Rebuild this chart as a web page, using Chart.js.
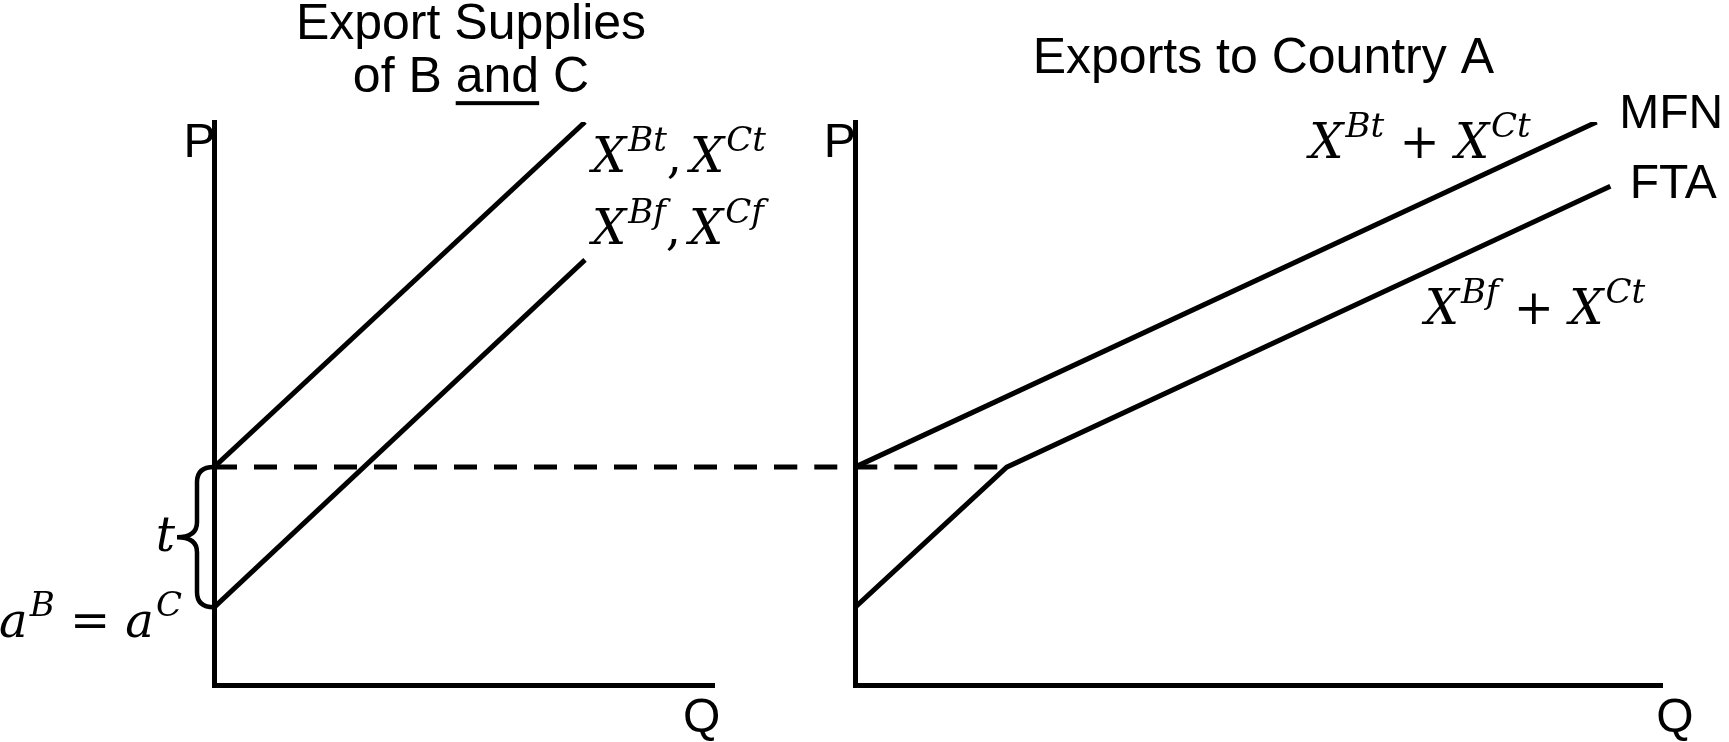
<!DOCTYPE html>
<html>
<head>
<meta charset="utf-8">
<title>Export supplies of B and C / Exports to Country A</title>
<script src="https://cdn.jsdelivr.net/npm/chart.js@4.4.0/dist/chart.umd.min.js"></script>
<style>
  html, body { margin: 0; padding: 0; background: #fff; }
  #wrap { position: relative; width: 1729px; height: 742px; overflow: hidden; }
  #left { position: absolute; left: 0; top: 0; }
  #right { position: absolute; left: 785px; top: 0; }
</style>
</head>
<body>
<div id="wrap">
  <canvas id="left" width="785" height="742"></canvas>
  <canvas id="right" width="944" height="742"></canvas>
</div>
<script>
// left panel: export supply of B (C is the same), with tariff t and tariff free
const supplyQ = [0, 7.42];
const supplyTariffP = [3.87, 10.0];   // X^Bt, X^Ct
const supplyFreeP = [1.38, 7.55];     // X^Bf, X^Cf
const tariffP = 3.87;                 // a + t (dashed line)
const interceptP = 1.38;              // a^B = a^C
const dashLeftQ = [0, 12];            // runs on past the axis into the right panel

// right panel: exports to country A
const mfnQ = [0, 9.19];
const mfnP = [3.87, 10.0];            // X^Bt + X^Ct
const ftaQ = [0, 1.88, 9.36];
const ftaP = [1.38, 3.87, 8.86];      // X^Bf + X^Ct
const dashRightQ = [-1, 1.88];

const SANS = "'Liberation Sans', Arial, sans-serif";
const SERIF = "'DejaVu Serif', serif";

const leftLabels = [
    {text: 'Export Supplies', q: 5.14, p: 11.47, align: 'center', size: 50},
    {text: 'of B and C', q: 5.14, p: 10.53, align: 'center', size: 50, underline: 'and'},
    {text: 'P', q: 0.03, p: 9.38, align: 'right', size: 48},
    {text: 'Q', q: 9.38, p: -0.835, align: 'left', size: 48},
    {math: 'X^{Bt},\u2006X^{Ct}', q: 7.56, p: 9.11, align: 'left'},
    {math: 'X^{Bf},\u2006X^{Cf}', q: 7.56, p: 7.83, align: 'left'},
    {math: 't', q: -0.78, p: 2.38, align: 'right'},
    {math: 'a^{B} = a^{C}', q: -0.64, p: 0.85, align: 'right'}
];

const rightLabels = [
    {text: 'Exports to Country A', q: 5.06, p: 10.87, align: 'center', size: 50},
    {text: 'P', q: 0.01, p: 9.38, align: 'right', size: 48},
    {text: 'Q', q: 9.93, p: -0.835, align: 'left', size: 48},
    {text: 'MFN', q: 9.47, p: 9.89, align: 'left', size: 48},
    {text: 'FTA', q: 9.60, p: 8.65, align: 'left', size: 48},
    {math: 'X^{Bt} + X^{Ct}', q: 5.63, p: 9.36, align: 'left'},
    {math: 'X^{Bf} + X^{Ct}', q: 7.06, p: 6.41, align: 'left'}
];

function toPoints(qs, ps) {
    return qs.map((q, i) => ({x: q, y: ps[i]}));
}

// split "X^{Bt} + X^{Ct}" into italic letters, superscripts and upright symbols
function parseMath(s) {
    let parts = [];
    let i = 0;
    while (i < s.length) {
        if (s[i] === '^') {
            let end = s.indexOf('}', i);
            parts.push({text: s.slice(i + 2, end), kind: 'sup'});
            i = end + 1;
        } else if (/[A-Za-z]/.test(s[i])) {
            parts.push({text: s[i], kind: 'it'});
            i++;
        } else {
            parts.push({text: s[i], kind: 'up'});
            i++;
        }
    }
    return parts;
}

function mathFont(kind) {
    if (kind === 'sup') return 'italic 34px ' + SERIF;
    if (kind === 'it') return 'italic 48px ' + SERIF;
    return '48px ' + SERIF;
}

function drawMath(ctx, s, x, y, align) {
    let parts = parseMath(s);
    let total = 0;
    parts.forEach(p => {
        ctx.font = mathFont(p.kind);
        p.pad = p.kind === 'sup' ? 2 : 0;
        p.w = ctx.measureText(p.text).width + p.pad;
        total += p.w;
    });
    let cx = align === 'right' ? x - total : (align === 'center' ? x - total / 2 : x);
    ctx.textAlign = 'left';
    parts.forEach(p => {
        ctx.font = mathFont(p.kind);
        ctx.fillText(p.text, cx + p.pad, p.kind === 'sup' ? y - 21 : y);
        cx += p.w;
    });
}

function drawBrace(ctx, x, yTop, yBot) {
    let r = 15, mid = (yTop + yBot) / 2, bx = x - 17, tip = x - 37;
    ctx.save();
    ctx.lineWidth = 4.5;
    ctx.strokeStyle = '#000';
    ctx.beginPath();
    ctx.moveTo(x, yTop);
    ctx.quadraticCurveTo(bx, yTop, bx, yTop + r);
    ctx.lineTo(bx, mid - r);
    ctx.quadraticCurveTo(bx, mid, tip, mid);
    ctx.quadraticCurveTo(bx, mid, bx, mid + r);
    ctx.lineTo(bx, yBot - r);
    ctx.quadraticCurveTo(bx, yBot, x, yBot);
    ctx.stroke();
    ctx.restore();
}

function labelPlugin(labels, brace) {
    return {
        id: 'labels',
        afterDraw(chart) {
            let ctx = chart.ctx;
            let xs = chart.scales.x, ys = chart.scales.y;
            ctx.save();
            ctx.fillStyle = '#000';
            ctx.textBaseline = 'alphabetic';
            labels.forEach(l => {
                let x = xs.getPixelForValue(l.q);
                let y = ys.getPixelForValue(l.p);
                if (l.math) {
                    drawMath(ctx, l.math, x, y, l.align);
                    return;
                }
                ctx.font = l.size + 'px ' + SANS;
                ctx.textAlign = l.align;
                ctx.fillText(l.text, x, y);
                if (l.underline) {
                    let w = ctx.measureText(l.text).width;
                    let start = l.align === 'center' ? x - w / 2 : x;
                    let before = ctx.measureText(l.text.slice(0, l.text.indexOf(l.underline))).width;
                    let uw = ctx.measureText(l.underline).width;
                    ctx.fillRect(start + before, y + 9, uw, 4);
                }
            });
            if (brace) {
                drawBrace(ctx, xs.getPixelForValue(0), ys.getPixelForValue(brace[1]), ys.getPixelForValue(brace[0]));
            }
            ctx.restore();
        }
    };
}

function axis() {
    return {
        type: 'linear',
        min: 0,
        max: 10,
        ticks: {display: false},
        grid: {display: false, drawTicks: false},
        border: {display: true, color: '#000', width: 5}
    };
}

function lineSet(data, extra) {
    return Object.assign({
        data: data,
        borderColor: '#000',
        borderWidth: 5,
        pointRadius: 0,
        fill: false,
        tension: 0
    }, extra || {});
}

function createChart(id, datasets, padding, plugin) {
    return new Chart(document.getElementById(id).getContext('2d'), {
        type: 'line',
        data: {datasets: datasets},
        options: {
            responsive: false,
            animation: false,
            devicePixelRatio: 1,
            layout: {padding: padding, autoPadding: false},
            plugins: {legend: {display: false}, tooltip: {enabled: false}, title: {display: false}},
            scales: {x: axis(), y: axis()}
        },
        plugins: [plugin]
    });
}

let leftChart = createChart('left', [
    lineSet(toPoints(supplyQ, supplyTariffP)),
    lineSet(toPoints(supplyQ, supplyFreeP)),
    lineSet(toPoints(dashLeftQ, [tariffP, tariffP]), {borderDash: [23, 17], clip: false})
], {left: 214, right: 71, top: 122, bottom: 57}, labelPlugin(leftLabels, [interceptP, tariffP]));

let rightChart = createChart('right', [
    lineSet(toPoints(mfnQ, mfnP)),
    lineSet(toPoints(ftaQ, ftaP)),
    lineSet(toPoints(dashRightQ, [tariffP, tariffP]), {borderDash: [23, 17], clip: false})
], {left: 70, right: 67, top: 122, bottom: 57}, labelPlugin(rightLabels, null));
</script>
</body>
</html>
